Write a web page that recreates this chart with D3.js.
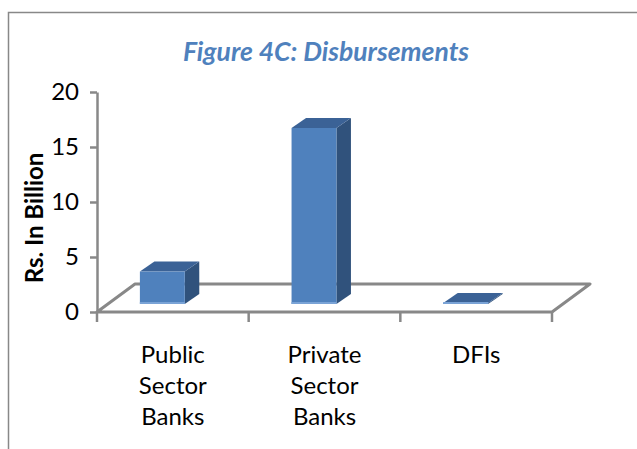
<!DOCTYPE html>
<html>
<head>
<meta charset="utf-8">
<script src="https://cdn.jsdelivr.net/npm/d3@7"></script>
<style>
body { margin: 0; background: #fff; }
text { font-family: Lato, "Open Sans", sans-serif; }
</style>
</head>
<body>
<svg id="chart" width="637" height="449"></svg>
<script>
var categories = ["Public Sector Banks", "Private Sector Banks", "DFIs"];
var categoryLines = [["Public", "Sector", "Banks"], ["Private", "Sector", "Banks"], ["DFIs"]];
var values = [2.95, 16.0, 0.1];
var yTicks = [0, 5, 10, 15, 20];
var titleText = "Figure 4C: Disbursements";
var yLabelText = "Rs. In Billion";

var svg = d3.select("#chart");
var plotLeft = 97, plotRight = 552, plotBottom = 312, plotTop = 92;
var floorDx = 38, floorDy = -28;   // depth of the floor
var barDx = 14.5, barDy = -10;     // depth of one bar
var barShiftX = -10.5, barShiftY = -8;
var grey = "#888888";

var x = d3.scaleBand().domain(categories).range([plotLeft, plotRight]);
var xEdge = d3.scaleLinear().domain([0, categories.length]).range([plotLeft, plotRight]);
var y = d3.scaleLinear().domain([0, 20]).range([plotBottom, plotTop]);

svg.append("rect").attr("width", 637).attr("height", 449).attr("fill", "#fff");

// chart frame
svg.append("rect")
  .attr("x", 8.5).attr("y", 12.5)
  .attr("width", 700).attr("height", 500)
  .attr("fill", "none")
  .attr("stroke", grey)
  .attr("stroke-width", 1.5);

// title
svg.append("text")
  .attr("x", 326).attr("y", 61)
  .attr("text-anchor", "middle")
  .attr("font-size", 26.5)
  .attr("font-weight", "bold")
  .attr("font-style", "italic")
  .attr("fill", "#4f81bd")
  .text(titleText);

// floor
var floorPts = [[plotLeft, plotBottom], [plotRight, plotBottom],
  [plotRight + floorDx, plotBottom + floorDy], [plotLeft + floorDx, plotBottom + floorDy]];
svg.append("path")
  .attr("d", d3.line()(floorPts) + "Z")
  .attr("fill", "none")
  .attr("stroke", grey)
  .attr("stroke-width", 3)
  .attr("stroke-linejoin", "round");

// x ticks along the front edge
svg.append("g").selectAll("line")
  .data(d3.range(categories.length + 1))
  .join("line")
  .attr("x1", function(i) { return xEdge(i); })
  .attr("x2", function(i) { return xEdge(i); })
  .attr("y1", plotBottom).attr("y2", plotBottom + 10)
  .attr("stroke", grey).attr("stroke-width", 2.5);

// y axis
var yAxis = svg.append("g")
  .attr("transform", "translate(" + plotLeft + ",0)")
  .call(d3.axisLeft(y).tickValues(yTicks).tickSize(7).tickSizeOuter(0).tickPadding(11));
yAxis.select(".domain").attr("stroke", grey).attr("stroke-width", 2.5);
yAxis.selectAll(".tick line").attr("stroke", grey).attr("stroke-width", 2.5);
yAxis.selectAll(".tick text")
  .attr("font-family", "Lato, 'Open Sans', sans-serif")
  .attr("font-size", 24)
  .attr("fill", "#000");

svg.append("text")
  .attr("transform", "translate(43,218) rotate(-90)")
  .attr("text-anchor", "middle")
  .attr("font-size", 24)
  .attr("font-weight", "bold")
  .attr("fill", "#000")
  .text(yLabelText);

// bars
var barW = x.bandwidth() * 0.296;
var bars = svg.append("g").selectAll("g")
  .data(categories.map(function(c, i) { return { cat: c, v: values[i] }; }))
  .join("g");

function geom(d) {
  var fx = x(d.cat) + x.bandwidth() / 2 + barShiftX - barW / 2;
  var base = plotBottom + barShiftY;
  var yt = base - (y(0) - y(d.v));
  return { fx: fx, base: base, yt: yt };
}

bars.append("path")
  .attr("fill", "#30527c")
  .attr("d", function(d) {
    var g = geom(d);
    return d3.line()([[g.fx + barW, g.yt], [g.fx + barW + barDx, g.yt + barDy],
      [g.fx + barW + barDx, g.base + barDy], [g.fx + barW, g.base]]) + "Z";
  });
bars.append("path")
  .attr("fill", "#3b6296")
  .attr("d", function(d) {
    var g = geom(d);
    return d3.line()([[g.fx, g.yt], [g.fx + barW, g.yt],
      [g.fx + barW + barDx, g.yt + barDy], [g.fx + barDx, g.yt + barDy]]) + "Z";
  });
bars.append("rect")
  .attr("fill", "#4f81bd")
  .attr("x", function(d) { return geom(d).fx; })
  .attr("y", function(d) { return geom(d).yt; })
  .attr("width", barW)
  .attr("height", function(d) { var g = geom(d); return g.base - g.yt; });
bars.append("line")
  .attr("x1", function(d) { return geom(d).fx; })
  .attr("x2", function(d) { return geom(d).fx + barW; })
  .attr("y1", function(d) { return geom(d).base - 1; })
  .attr("y2", function(d) { return geom(d).base - 1; })
  .attr("stroke", "#7aa3d6")
  .attr("stroke-width", 2);

// category labels
var labels = svg.append("g").selectAll("text")
  .data(categories)
  .join("text")
  .attr("text-anchor", "middle")
  .attr("font-size", 24)
  .attr("fill", "#000")
  .attr("y", 363);
labels.selectAll("tspan")
  .data(function(d, i) { return categoryLines[i]; })
  .join("tspan")
  .attr("x", function() { var c = d3.select(this.parentNode).datum(); return x(c) + x.bandwidth() / 2; })
  .attr("dy", function(d, j) { return j === 0 ? 0 : 31; })
  .text(function(d) { return d; });
</script>
</body>
</html>
